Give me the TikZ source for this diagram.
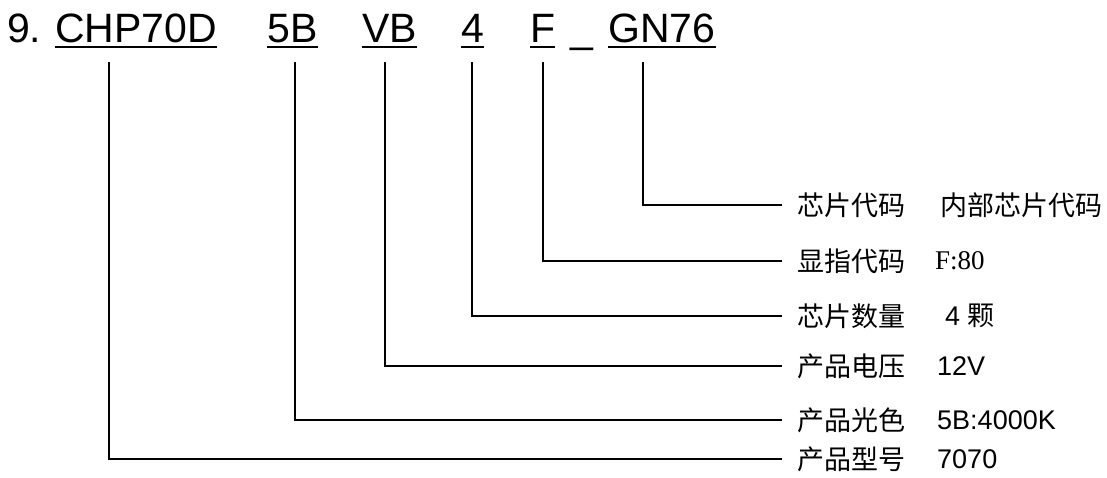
\documentclass[tikz,border=0pt]{standalone}
\usepackage{fontspec}
\setmainfont{Liberation Sans}
\newfontfamily\cjk{Noto Sans CJK SC}
\newfontfamily\tnr{Liberation Serif}
\tikzset{
  code/.style={inner sep=0pt,anchor=base west,font=\fontsize{41}{41}\selectfont},
  uline/.style={line width=2.6pt},
  lead/.style={line width=1.6pt},
  key/.style={inner sep=0pt,anchor=west,font=\fontsize{27}{27}\selectfont\cjk},
  val/.style={inner sep=0pt,anchor=west,font=\fontsize{27}{27}\selectfont},
}
\begin{document}
\begin{tikzpicture}[x=1pt,y=-1pt]
\useasboundingbox (0,0) rectangle (1107,477);
% code line
\node[code] (nine) at (7,42)  {9.};
\node[code] (chp)  at (55,42) {CHP70D};
\node[code] (fiveb) at (267,42) {5B};
\node[code] (vb)   at (362,42) {VB};
\node[code] (four) at (461,42) {4};
\node[code] (f)    at (530,42) {F};
\node[code] (us)   at (570,42) {\_};
\node[code] (gn)   at (608,42) {GN76};
\draw[uline] ([yshift=-5pt]chp.base west) -- ([yshift=-5pt]chp.base east);
\draw[uline] ([yshift=-5pt]fiveb.base west) -- ([yshift=-5pt]fiveb.base east);
\draw[uline] ([yshift=-5pt]vb.base west) -- ([yshift=-5pt]vb.base east);
\draw[uline] ([yshift=-5pt]four.base west) -- ([yshift=-5pt]four.base east);
\draw[uline] ([yshift=-5pt]f.base west) -- ([yshift=-5pt]f.base east);
\draw[uline] ([yshift=-5pt]gn.base west) -- ([yshift=-5pt]gn.base east);
% labels
\node[key] (kgn)  at (797,205) {芯片代码};
\node[key] (kf)   at (797,261) {显指代码};
\node[key] (kfour) at (797,316) {芯片数量};
\node[key] (kvb)  at (797,366) {产品电压};
\node[key] (kfiveb) at (797,420) {产品光色};
\node[key] (kchp) at (797,459) {产品型号};
\node[key] (vgn)  at (940,205) {内部芯片代码};
\node[val] (vf)   at (935,261) {\tnr F:80};
\node[val] (vfour) at (945,316) {4 {\cjk 颗}};
\node[val] (vvb)  at (937,366) {12V};
\node[val] (vfiveb) at (937,420) {5B:4000K};
\node[val] (vchp) at (937,459) {7070};
% leaders
\coordinate (tchp) at (109,62);
\coordinate (tfiveb) at (295,62);
\coordinate (tvb) at (385,62);
\coordinate (tfour) at (472,62);
\coordinate (tf) at (543,62);
\coordinate (tgn) at (643,62);
\draw[lead] (tgn) |- ([xshift=-15pt]kgn.west);
\draw[lead] (tf) |- ([xshift=-15pt]kf.west);
\draw[lead] (tfour) |- ([xshift=-15pt]kfour.west);
\draw[lead,line width=2.4pt] (tvb) |- ([xshift=-15pt]kvb.west);
\draw[lead] (tfiveb) |- ([xshift=-15pt]kfiveb.west);
\draw[lead] (tchp) |- ([xshift=-15pt]kchp.west);
\end{tikzpicture}
\end{document}
